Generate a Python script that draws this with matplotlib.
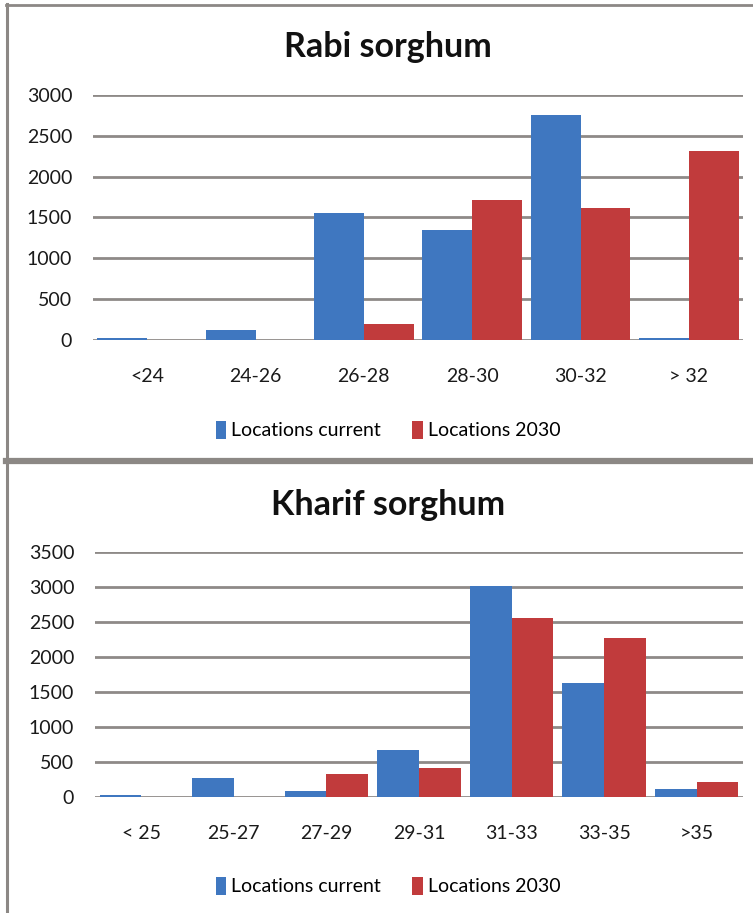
import matplotlib
matplotlib.use("Agg")
import matplotlib.pyplot as plt
import numpy as np
from matplotlib.patches import Patch
from matplotlib.lines import Line2D

plt.rcParams['font.family'] = ['Lato', 'DejaVu Sans']

# Rabi sorghum: number of locations per temperature class
rabi_classes = ["<24", "24-26", "26-28", "28-30", "30-32", "> 32"]
rabi_current = [30, 120, 1550, 1350, 2760, 30]
rabi_2030 = [0, 0, 190, 1710, 1620, 2320]
rabi_ticks = [0, 500, 1000, 1500, 2000, 2500, 3000]

# Kharif sorghum: number of locations per temperature class
kharif_classes = ["< 25", "25-27", "27-29", "29-31", "31-33", "33-35", ">35"]
kharif_current = [30, 270, 90, 670, 3010, 1630, 110]
kharif_2030 = [0, 0, 330, 410, 2560, 2270, 220]
kharif_ticks = [0, 500, 1000, 1500, 2000, 2500, 3000, 3500]

series_names = ["Locations current", "Locations 2030"]
BLUE = "#3F77C0"
RED = "#C13B3C"
GRID = "#8E8A87"

W, H = 753, 913
fig = plt.figure(figsize=(W / 100, H / 100), dpi=100)
fig.patch.set_facecolor("white")


def fx(px):
    return px / W


def fy(py):
    return 1 - py / H


def draw_panel(rect, title, title_y, classes, cur, fut, ticks, bar_w, label_pad, legend_y):
    ax = fig.add_axes(rect)
    x = np.arange(len(classes))
    ax.bar(x - bar_w / 2, cur, width=bar_w, color=BLUE, zorder=3)
    ax.bar(x + bar_w / 2, fut, width=bar_w, color=RED, zorder=3)
    ax.set_xlim(-0.5, len(classes) - 0.5)
    ax.set_ylim(0, ticks[-1])
    ax.set_yticks(ticks)
    ax.set_yticklabels([str(t) for t in ticks], fontsize=14, color="#1a1a1a")
    ax.set_xticks(x)
    ax.set_xticklabels(classes, fontsize=14, color="#1a1a1a")
    ax.tick_params(axis="both", length=0)
    ax.tick_params(axis="y", pad=15)
    ax.tick_params(axis="x", pad=label_pad)
    for t in ticks:
        ax.axhline(t, color=GRID, lw=2.0, zorder=1)
    for s in ax.spines.values():
        s.set_visible(False)
    fig.text(fx(388), fy(title_y), title, ha="center", va="center",
             fontsize=24.5, fontweight="bold", color="#111111")
    handles = [Patch(facecolor=BLUE), Patch(facecolor=RED)]
    fig.legend(handles, series_names, loc="center", bbox_to_anchor=(fx(388), fy(legend_y)),
               ncol=2, frameon=False, fontsize=14, handlelength=0.55, handleheight=1.1,
               handletextpad=0.25, columnspacing=1.6)
    return ax


# Upper panel
draw_panel([fx(93), fy(340), fx(743) - fx(93), fy(95) - fy(340)],
           "Rabi sorghum", 47, rabi_classes, rabi_current, rabi_2030,
           rabi_ticks, 0.46, 20, 430)

# Lower panel
draw_panel([fx(95), fy(797), fx(743) - fx(95), fy(552) - fy(797)],
           "Kharif sorghum", 505, kharif_classes, kharif_current, kharif_2030,
           kharif_ticks, 0.45, 20, 886)

# Panel frames
frame = "#8C8885"
fig.add_artist(Line2D([fx(7), fx(7)], [0, fy(4)], transform=fig.transFigure, color=frame, lw=2.2))
fig.add_artist(Line2D([fx(6), 1], [fy(5), fy(5)], transform=fig.transFigure, color=frame, lw=2.0))
fig.add_artist(Line2D([fx(6), 1], [fy(461.5), fy(461.5)], transform=fig.transFigure, color=frame, lw=4.5))

fig.savefig("out.png", dpi=100, facecolor="white")
